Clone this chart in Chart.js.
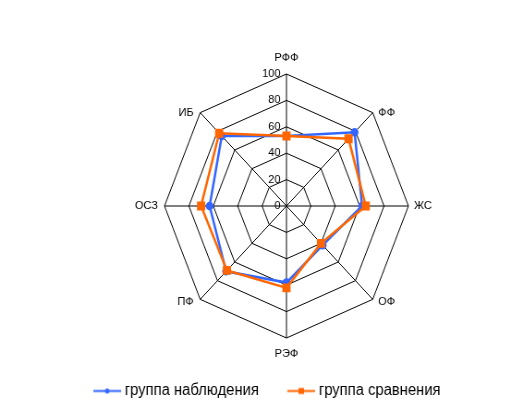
<!DOCTYPE html>
<html>
<head>
<meta charset="utf-8">
<script src="https://cdn.jsdelivr.net/npm/chart.js@4"></script>
<style>
  html, body { margin: 0; padding: 0; background: #fff; }
  #chart { display: block; }
</style>
</head>
<body>
<!-- drawn 566 wide and shown 523 wide: the original radar is a bit squeezed sideways -->
<canvas id="chart" width="566" height="411" style="width:523px;height:411px"></canvas>
<script>
const axisLabels = ["РФФ", "ФФ", "ЖС", "ОФ", "РЭФ", "ПФ", "ОСЗ", "ИБ"];
const observationGroup = [53, 79, 62, 42, 58, 70, 63, 75];
const comparisonGroup = [53, 72, 65, 40, 62, 69, 70, 78];
const seriesNames = ["группа наблюдения", "группа сравнения"];
const tickValues = [0, 20, 40, 60, 80, 100];

const BLUE = "#3366ff";
const ORANGE = "#ff6600";
const FONT = "'Liberation Sans', Arial, sans-serif";
const squeeze = 523 / 566;

// small line + marker pictures for the legend
function legendIcon(color, square) {
  const c = document.createElement("canvas");
  c.width = 30;
  c.height = 9;
  const g = c.getContext("2d");
  g.strokeStyle = color;
  g.lineWidth = 2;
  g.beginPath();
  g.moveTo(0, 4.5);
  g.lineTo(30, 4.5);
  g.stroke();
  g.fillStyle = color;
  if (square) {
    g.fillRect(12, 1.5, 6, 6);
  } else {
    g.beginPath();
    g.arc(15, 4.5, 2.5, 0, Math.PI * 2);
    g.fill();
  }
  return c;
}
const legendIcons = [legendIcon(BLUE, false), legendIcon(ORANGE, true)];

// text drawn un-squeezed so it keeps normal proportions
function putText(ctx, text, x, y) {
  ctx.save();
  ctx.translate(x, y);
  ctx.scale(1 / squeeze, 1);
  ctx.fillText(text, 0, 0);
  ctx.restore();
}

// tick numbers left of the vertical axis, axis names at the corners
const radarText = {
  id: "radarText",
  afterDraw(chart) {
    const scale = chart.scales.r;
    const ctx = chart.ctx;
    ctx.save();
    ctx.fillStyle = "#000";
    ctx.font = "11px " + FONT;
    ctx.textBaseline = "middle";
    ctx.textAlign = "right";
    scale.ticks.forEach((t) => {
      const y = scale.yCenter - scale.getDistanceFromCenterForValue(t.value);
      putText(ctx, String(t.value), scale.xCenter - 6.5, y);
    });
    axisLabels.forEach((label, i) => {
      const p = scale.getPointPosition(i, scale.drawingArea);
      const dx = p.x - scale.xCenter;
      const dy = p.y - scale.yCenter;
      let x = p.x;
      let y = p.y;
      if (Math.abs(dx) < 1) {
        ctx.textAlign = "center";
        y += dy < 0 ? -16 : 15.5;
      } else {
        ctx.textAlign = dx > 0 ? "left" : "right";
        x += dx > 0 ? 6 : -7;
        if (dy > 1) y += 3;
      }
      putText(ctx, label, x, y);
    });
    ctx.restore();
  },
};

const ctx = document.getElementById("chart").getContext("2d");
new Chart(ctx, {
  type: "radar",
  data: {
    labels: axisLabels,
    datasets: [
      {
        label: seriesNames[0],
        data: observationGroup,
        borderColor: BLUE,
        backgroundColor: BLUE,
        pointBackgroundColor: BLUE,
        pointBorderColor: BLUE,
        pointStyle: "circle",
        pointRadius: 3,
        borderWidth: 2.5,
        fill: false,
        order: 1,
      },
      {
        label: seriesNames[1],
        data: comparisonGroup,
        borderColor: ORANGE,
        backgroundColor: ORANGE,
        pointBackgroundColor: ORANGE,
        pointBorderColor: ORANGE,
        pointStyle: "rect",
        pointRadius: 4.5,
        borderWidth: 2.5,
        fill: false,
        order: 0,
      },
    ],
  },
  options: {
    responsive: false,
    animation: false,
    layout: {
      padding: { top: 74, left: 70, right: 16, bottom: 2 },
    },
    elements: {
      line: { tension: 0 },
    },
    plugins: {
      tooltip: { enabled: false },
      legend: {
        position: "bottom",
        align: "start",
        title: { display: true, text: "", padding: 0, font: { size: 10, lineHeight: 1 } },
        labels: {
          usePointStyle: true,
          pointStyleWidth: 22,
          padding: 35,
          color: "#000",
          font: { family: FONT, size: 16 },
          generateLabels: (chart) =>
            chart.data.datasets.map((ds, i) => ({
              text: ds.label,
              fillStyle: ds.borderColor,
              strokeStyle: ds.borderColor,
              fontColor: "#000",
              lineWidth: 0,
              pointStyle: legendIcons[i],
              hidden: false,
              datasetIndex: i,
            })),
        },
      },
    },
    scales: {
      r: {
        min: tickValues[0],
        max: tickValues[tickValues.length - 1],
        ticks: { display: false, stepSize: tickValues[1] - tickValues[0] },
        pointLabels: { display: false },
        grid: { color: "#000", lineWidth: 1 },
        angleLines: { color: "#000", lineWidth: 1 },
      },
    },
  },
  plugins: [radarText],
});
</script>
</body>
</html>
